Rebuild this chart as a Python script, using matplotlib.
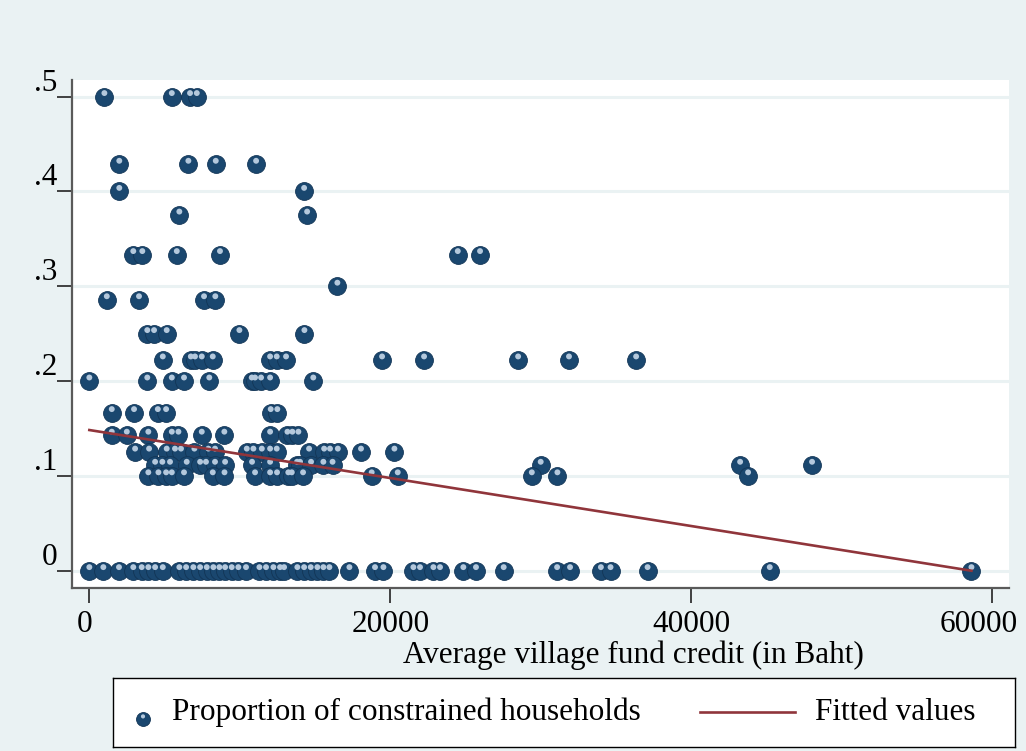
import numpy as np
import matplotlib.pyplot as plt
from matplotlib import transforms

plt.rcParams['font.family'] = ['Liberation Serif', 'DejaVu Serif']

# share of constrained households (row value) and village fund credit of each village on that row
shares = [0.5, 3/7, 0.4, 0.375, 1/3, 0.3, 2/7, 0.25, 2/9, 0.2, 1/6, 1/7, 0.125, 1/9, 0.1, 0.0]
credit = [
    [1000, 5480, 6690, 7140],
    [1990, 6580, 8400, 11080],
    [1990, 14270],
    [5980, 14470],
    [2920, 3520, 5810, 8680, 24480, 25960],
    [16480],
    [1160, 3300, 7620, 8370],
    [3850, 4300, 5140, 9970, 14290],
    [4880, 6740, 7020, 7470, 8200, 12010, 12450, 13070, 19450, 22240, 28490, 31870, 36330],
    [0, 3850, 5480, 6290, 7970, 10790, 11010, 11410, 12010, 14880],
    [1490, 2970, 4550, 5100, 12050, 12490],
    [1490, 2490, 3920, 5480, 5920, 7470, 8970, 12010, 13160, 13490, 13890],
    [3040, 3970, 5140, 5690, 6090, 6980, 7910, 8350, 10460, 10900, 11460, 12010, 12450,
     14600, 15600, 15990, 16510, 18050, 20270],
    [4370, 4850, 5360, 6470, 7360, 7750, 8350, 9020, 10810, 12010, 13800, 14000, 14730,
     15550, 16160, 29990, 43240, 48020],
    [3920, 4590, 5100, 5480, 6290, 8200, 8980, 11010, 12010, 12470, 13220, 13450, 14200,
     18760, 20490, 29400, 31100, 43770],
    [0, 930, 1970, 2920, 3480, 3920, 4370, 4880, 5980, 6430, 6910, 7360, 7800, 8240, 8640,
     9020, 9460, 9900, 10410, 11300, 11740, 12230, 12670, 12940, 13820, 14270, 14710, 15150,
     15550, 15950, 17280, 18980, 19540, 21530, 21970, 22860, 23300, 24850, 25690, 27530,
     31080, 31940, 33990, 34630, 37090, 45210, 58610],
]

# linear fit
fit_intercept = 0.1484
fit_slope = -2.532e-6

yticks = [0, 0.1, 0.2, 0.3, 0.4, 0.5]
ytick_labels = ['0', '.1', '.2', '.3', '.4', '.5']
xticks = [0, 20000, 40000, 60000]

x = np.concatenate([np.array(c, dtype=float) for c in credit])
y = np.concatenate([np.full(len(c), s) for s, c in zip(shares, credit)])

bg = '#eaf2f3'
navy = '#1a476f'
gloss = '#b4c8dc'
maroon = '#90353b'
fs = 22.5

fig = plt.figure(figsize=(10.26, 7.51), dpi=100, facecolor=bg)
ax = fig.add_axes([0.0705, 0.217, 0.913, 0.6765])
ax.set_facecolor('white')

for t in yticks:
    ax.axhline(t, color=bg, lw=2.2, zorder=0)

ax.scatter(x, y, s=165, color=navy, edgecolors='#123556', linewidths=0.6, zorder=3)
# small glossy highlight on each dot
hl = transforms.ScaledTranslation(0, 3.6 / 100, fig.dpi_scale_trans)
ax.scatter(x, y, s=18, color=gloss, edgecolors='none', zorder=4,
           transform=ax.transData + hl)

xf = np.array([x.min(), x.max()])
ax.plot(xf, fit_intercept + fit_slope * xf, color=maroon, lw=1.9, zorder=5)

ax.set_xlim(-1130, 61110)
ax.set_ylim(-0.01825, 0.5176)

for side in ['top', 'right']:
    ax.spines[side].set_visible(False)
for side in ['left', 'bottom']:
    ax.spines[side].set_color('#5a5a5a')
    ax.spines[side].set_linewidth(1.6)

ax.set_yticks(yticks)
ax.set_yticklabels(ytick_labels, fontsize=fs)
ax.set_xticks(xticks)
ax.set_xticklabels([str(v) for v in xticks], fontsize=fs)
ax.tick_params(axis='y', length=11, width=1.3, color='#333333', pad=0)
ax.tick_params(axis='x', length=11, width=1.3, color='#333333', pad=5)

# y labels sit above their ticks
up = transforms.ScaledTranslation(0, 17 / 100, fig.dpi_scale_trans)
for lab in ax.get_yticklabels():
    lab.set_transform(lab.get_transform() + up)
xlabs = ax.get_xticklabels()
xlabs[0].set_transform(xlabs[0].get_transform() +
                       transforms.ScaledTranslation(-5 / 100, 0, fig.dpi_scale_trans))
xlabs[-1].set_transform(xlabs[-1].get_transform() +
                        transforms.ScaledTranslation(-14 / 100, 0, fig.dpi_scale_trans))

fig.text(633 / 1026, 1 - 655 / 751, 'Average village fund credit (in Baht)',
         fontsize=fs, ha='center', va='center')

# legend box
lg = fig.add_axes([113 / 1026, 4 / 751, 902 / 1026, 69 / 751])
lg.set_facecolor('white')
lg.set_xlim(0, 902)
lg.set_ylim(0, 69)
lg.set_xticks([])
lg.set_yticks([])
for s in lg.spines.values():
    s.set_color('black')
    s.set_linewidth(1.0)
lg.scatter([30], [28], s=100, color=navy, edgecolors='#123556', linewidths=0.6)
lg.scatter([30], [28], s=9, color=gloss, edgecolors='none',
           transform=lg.transData + transforms.ScaledTranslation(0, 2.6 / 100, fig.dpi_scale_trans))
lg.text(59, 35, 'Proportion of constrained households', fontsize=fs, va='center')
lg.plot([587, 682], [35, 35], color=maroon, lw=1.9)
lg.text(702, 35, 'Fitted values', fontsize=fs, va='center')

fig.savefig('out.png', dpi=100, facecolor=bg)
